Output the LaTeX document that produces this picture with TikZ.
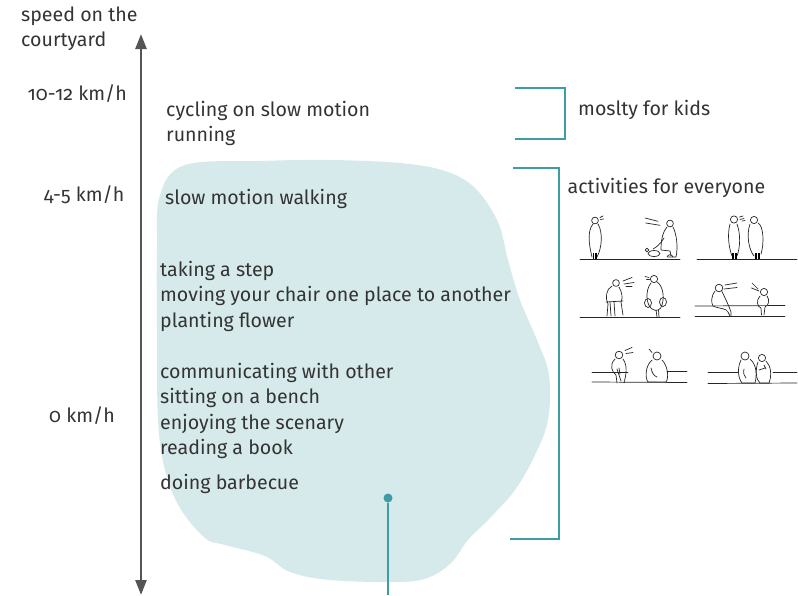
\documentclass[tikz,border=0pt]{standalone}
\usepackage{fontspec}
\setmainfont[Numbers=OldStyle]{Fira Sans}
\usetikzlibrary{arrows.meta}
\definecolor{txt}{HTML}{333333}
\definecolor{axisgray}{HTML}{555555}
\definecolor{tealline}{HTML}{3C9DA3}
\definecolor{blobfill}{HTML}{D6EAEB}
\tikzset{
  lbl/.style={anchor=base west, inner sep=0pt, text=txt, font=\fontsize{19.6}{23}\selectfont},
  lblr/.style={lbl, anchor=base east},
  bracket/.style={draw=tealline, line width=2pt},
  axisline/.style={draw=axisgray, line width=2.6pt,
    {Triangle[length=15pt,width=11pt]}-{Triangle[length=15pt,width=11pt]}},
  sk/.style={draw=black!85, line width=0.7pt, line cap=round, line join=round},
  skfoot/.style={draw=black, line width=1.5pt},
}
\begin{document}
\begin{tikzpicture}[x=1pt,y=-1pt]
\useasboundingbox (0,0) rectangle (798,595);

% activity area
\fill[blobfill] plot[smooth cycle, tension=0.6] coordinates {
  (185,165) (260,161) (330,160) (400,163) (445,171) (475,188) (498,222)
  (508,260) (520,300) (537,340) (549,375) (548,420) (535,455) (515,490)
  (490,518) (468,540) (452,562) (430,577) (400,582) (330,580) (290,572)
  (265,556) (225,545) (205,538) (180,508) (165,470) (158,420) (157,330)
  (157,250) (160,195)};

% speed axis
\coordinate (axtop) at (141,34);
\coordinate (axbot) at (141,595);
\draw[axisline] (axbot) -- (axtop);

\node[lbl] (title1) at (21,21.7) {speed on the};
\node[lbl] (title2) at (21,46.7) {courtyard};
\node[lblr] (v10) at (127,100) {10-12 km/h};
\node[lblr] (v4) at (124.5,201.7) {4-5 km/h};
\node[lblr] (v0) at (115,422.7) {0 km/h};

% activities
\node[lbl] (cyc) at (166,116.5) {cycling on slow motion};
\node[lbl] (run) at (166,141.5) {running};
\node[lbl] (walk) at (165,204) {slow motion walking};
\node[lbl] (stepn) at (160,276) {taking a step};
\node[lbl] (chair) at (160,301.5) {moving your chair one place to another};
\node[lbl] (plant) at (160,327) {planting flower};
\node[lbl] (comm) at (160,378) {communicating with other};
\node[lbl] (bench) at (160,403.5) {sitting on a bench};
\node[lbl] (scen) at (160,429) {enjoying the scenary};
\node[lbl] (book) at (160,454.5) {reading a book};
\node[lbl] (bbq) at (160,489.5) {doing barbecue};

% brackets
\coordinate (b1a) at (515,88);
\coordinate (b1b) at (565,88);
\coordinate (b1c) at (565,139);
\coordinate (b1d) at (515,139);
\draw[bracket] (b1a) -- (b1b) -- (b1c) -- (b1d);
\node[lbl] (kids) at (578,115) {moslty for kids};

\coordinate (b2a) at (513,168);
\coordinate (b2b) at (559,168);
\coordinate (b2c) at (559,539);
\coordinate (b2d) at (510,539);
\draw[bracket] (b2a) -- (b2b) -- (b2c) -- (b2d);
\node[lbl] (every) at (567.5,193.3) {activities for everyone};

% pin
\node[circle, fill=tealline, inner sep=0pt, minimum size=9pt] (pin) at (388,498) {};
\coordinate (pinend) at (388,595);
\draw[tealline, line width=2pt] (pin) -- (pinend);

% ---- sketches: row 1, left
\draw[sk] (580,259) -- (680,259);
\draw[sk] (595,220.5) circle[radius=3.4pt];
\draw[sk] (593,224) .. controls (587,231) and (589,245) .. (592,257);
\draw[sk] (598,224) .. controls (603,232) and (602,248) .. (597,257);
\draw[skfoot] (593.5,253) -- (593.5,259) (596,253) -- (596,259);
\draw[sk] (600,217.5) -- (603,216) (600.5,219.5) -- (603.5,219);
\draw[sk] (670,223.5) circle[radius=3.4pt];
\draw[sk] (645,218) -- (658,221.3) (645.7,223) -- (660,225.3);
\draw[sk] (673,227) .. controls (677,235) and (678,248) .. (676,257) -- (668,257);
\draw[sk] (667,227) .. controls (662,233) and (661,242) .. (661,250) -- (670,251) -- (671,256);
\draw[sk] (664,238) .. controls (661,243) and (657,247) .. (653,249);
\draw[sk] (654,253.5) ellipse[x radius=6pt, y radius=3pt];
\draw[sk] (647,250) circle[radius=1.8pt];
\draw[sk] (667,257) .. controls (668,254) and (672,254) .. (673,257);

% row 1, right
\draw[sk] (697,259) -- (797,259);
\draw[sk] (734,219.5) circle[radius=3.6pt];
\draw[sk] (730,224) .. controls (727,235) and (729,248) .. (732,256);
\draw[sk] (737,224) .. controls (741,235) and (740,248) .. (737,256);
\draw[skfoot] (733,253) -- (733,259) (736,253) -- (736,259);
\draw[sk] (754,220) circle[radius=3.6pt];
\draw[sk] (750,224) .. controls (746,235) and (749,250) .. (754,256);
\draw[sk] (758,223) .. controls (764,226) and (764,245) .. (761,254);
\draw[skfoot] (756,253) -- (756,259) (759,253) -- (759,259);
\draw[sk] (739.5,217) -- (743,216) (740,219.5) -- (744,218.5) (742,221) -- (745,220.5);

% row 2, left
\draw[sk] (580,317) -- (680,317);
\draw[sk] (616,283) circle[radius=3.4pt];
\draw[sk] (612,286) .. controls (606,289) and (605,298) .. (608,304);
\draw[sk] (619,287) .. controls (622,292) and (623,298) .. (621,302);
\draw[sk] (606,302) -- (623,301);
\draw[sk] (610,302) -- (611,316) (614,302) -- (615,316) (621,302) -- (623,315);
\draw[sk] (608,304) -- (607,316);
\draw[sk] (623,281) -- (632,277.5) (624,284) -- (634,282.5) (626,286.5) -- (632,286.5);
\draw[sk] (654,279) circle[radius=3.6pt];
\draw[sk] (651,283) .. controls (645,290) and (646,305) .. (652,309)
  .. controls (656,312) and (661,310) .. (662,305)
  .. controls (665,295) and (662,285) .. (657,282);
\draw[sk] (648,303) ellipse[x radius=3.5pt, y radius=4.5pt];
\draw[sk] (663,302) ellipse[x radius=3.5pt, y radius=4.5pt];
\draw[sk] (656,310) -- (657,317) (658.5,310) -- (659,317);
\draw[sk] (645,276.5) -- (649,277.5) (646.5,279.5) -- (649.5,279.5);

% row 2, right
\draw[sk] (695,306) -- (785,305.5);
\draw[sk] (695,316) -- (785,316);
\draw[sk] (719,288) circle[radius=3.8pt];
\draw[sk] (715,291) .. controls (711,296) and (711,303) .. (713,306)
  .. controls (720,309) and (726,308) .. (728,312) -- (730,316);
\draw[sk] (722,291.5) .. controls (726,300) and (729,306) .. (731,312) -- (731,316);
\draw[sk] (725,285) -- (737,283) (724,289) -- (737,287.5);
\draw[sk] (764,292) circle[radius=3.6pt];
\draw[sk] (760,296) .. controls (756,300) and (757,307) .. (761,308) -- (761.5,315);
\draw[sk] (767,296) .. controls (770,300) and (769,305) .. (765,307) -- (764,315);
\draw[sk] (752,283) -- (758,289) (751.5,288) -- (759,291);

% row 3, left
\draw[sk] (592,372) -- (628,372) (667,371) -- (687,371);
\draw[sk] (592,382) -- (687,382.5);
\draw[sk] (619,355) circle[radius=3.8pt];
\draw[sk] (615,359) .. controls (609,365) and (612,372) .. (616,375) -- (617,383);
\draw[sk] (623,359) .. controls (628,366) and (626,375) .. (624,383);
\draw[sk] (617,369) -- (621,381) (619,368) -- (620,374);
\draw[sk] (625,350.5) -- (632,347.5) (626,353.5) -- (633,352.5);
\draw[sk] (657,356) circle[radius=4pt];
\draw[sk] (652,360) .. controls (645,366) and (645,378) .. (648,382) -- (666,382)
  .. controls (669,378) and (668,366) .. (662,360);
\draw[sk] (649,349) -- (652,352.5);
\draw[sk] (651,368) .. controls (652,373) and (654,376) .. (657,377);

% row 3, right
\draw[sk] (708,372) -- (738,372) (773,372) -- (797,372);
\draw[sk] (708,383.5) -- (797,383);
\draw[sk] (745,356) circle[radius=4pt];
\draw[sk] (741,360) .. controls (737,368) and (738,378) .. (742,383) -- (755,383)
  .. controls (757,375) and (757,365) .. (750,359);
\draw[sk] (744,369) .. controls (743,373) and (744,376) .. (746,378);
\draw[sk] (762,358) circle[radius=3.6pt];
\draw[sk] (758,362) .. controls (755,370) and (756,380) .. (760,383) -- (769,383)
  .. controls (772,375) and (771,366) .. (766,361);
\draw[sk] (759,370) -- (765,368) (764,365) -- (766,369);
\end{tikzpicture}
\end{document}
